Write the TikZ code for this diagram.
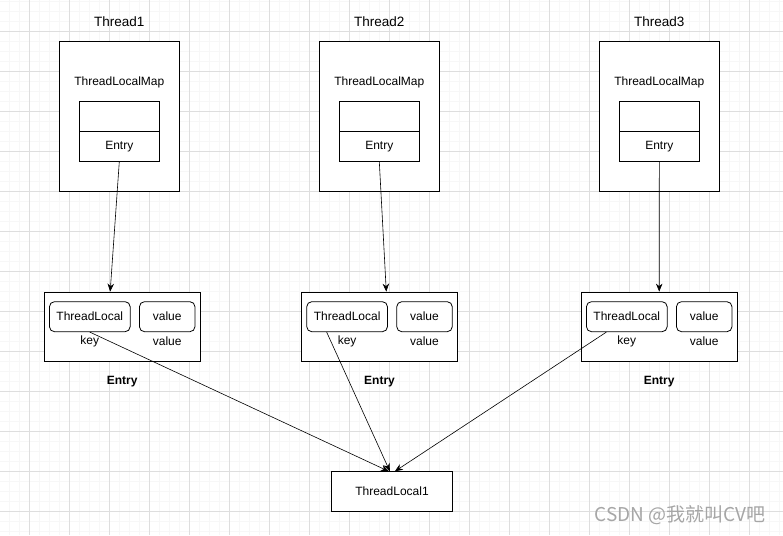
\documentclass[tikz,border=0pt]{standalone}
\usepackage{fontspec}
\setmainfont{Liberation Sans}
\newfontfamily\cjkfont{Noto Sans CJK SC}
\usetikzlibrary{arrows.meta}
\begin{document}
\begin{tikzpicture}[x=1pt, y=-1pt, >={Stealth[length=8pt,width=6.5pt]},
    font=\fontsize{12pt}{14pt}\selectfont,
    gridminor/.style={draw=black!3, line width=0.5pt},
    gridmajor/.style={draw=black!13, line width=0.7pt},
    threadbox/.style={draw, fill=white, line width=0.8pt, minimum width=120pt, minimum height=150pt},
    cell/.style={draw, fill=white, line width=0.8pt, minimum width=80pt, minimum height=30pt, inner sep=0pt},
    entrybox/.style={draw, fill=white, line width=0.8pt, minimum width=155.5pt, minimum height=69pt},
    slot/.style={draw, fill=white, line width=0.8pt, rounded corners=5pt, minimum height=30pt, inner sep=0pt},
    link/.style={->, line width=0.6pt}]
    \fill[white] (0,0) rectangle (783,535);
    \useasboundingbox (0,0) rectangle (783,535);
    \foreach \gx in {-0.7,9.3,...,790} \draw[gridminor] (\gx,0) -- (\gx,535);
    \foreach \gy in {1.7,11.7,...,540} \draw[gridminor] (0,\gy) -- (783,\gy);
    \foreach \gx in {29.3,69.3,...,790} \draw[gridmajor] (\gx,0) -- (\gx,535);
    \foreach \gy in {31.7,71.7,...,540} \draw[gridmajor] (0,\gy) -- (783,\gy);
    \foreach \i/\tx/\ex in {1/119.3/122.2, 2/379.3/379.5, 3/659.3/659.2} {
        \node (tname\i) at (\tx,22) {\fontsize{13.5pt}{16pt}\selectfont Thread\i};
        \node[threadbox] (thread\i) at (\tx,116.3) {};
        \node (mapname\i) at (\tx,82) {ThreadLocalMap};
        \node[cell] (slot\i) at (\tx,116.2) {};
        \node[cell] (entry\i) at (\tx,146.3) {Entry};
        \node[entrybox] (ebox\i) at (\ex,326.5) {};
        \node[slot, minimum width=80.7pt] (key\i) at (\ex-32.4,316.7) {ThreadLocal};
        \node[slot, minimum width=55.5pt] (val\i) at (\ex+45,316.7) {value};
        \node (keyname\i) at (\ex-32.4,341.7) {key};
        \node (valname\i) at (\ex+45,341.7) {value};
        \node[font=\fontsize{12pt}{14pt}\selectfont\bfseries] (ename\i) at (\ex,381.7) {Entry};
    }
    \node[draw, fill=white, line width=0.8pt, minimum width=120.6pt, minimum height=39.5pt] (tlocal) at (392,491.5) {ThreadLocal1};
    \draw[link] (entry1.south) -- (ebox1.109);
    \draw[link] (entry2.south) -- (ebox2.79);
    \draw[link] (entry3.south) -- (ebox3.north);
    \draw[link] (key1.south) -- (tlocal.99);
    \draw[link] (key2.217) -- (tlocal.96);
    \draw[link] (key3.217) -- (tlocal.82);
    \node[text=black!35, font=\cjkfont\fontsize{19pt}{21pt}\selectfont, anchor=east] (mark) at (769,515) {CSDN @我就叫CV吧};
\end{tikzpicture}
\end{document}
